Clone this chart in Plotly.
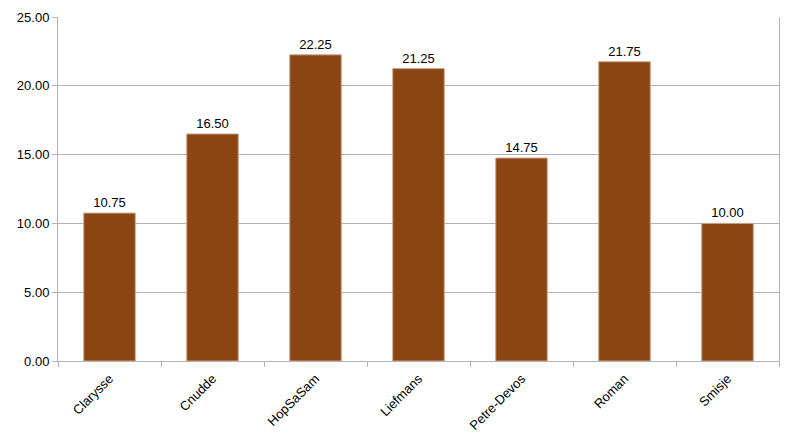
import plotly.graph_objects as go

brewers = ['Clarysse', 'Cnudde', 'HopSaSam', 'Liefmans', 'Petre-Devos', 'Roman', 'Smisje']
scores = [10.75, 16.50, 22.25, 21.25, 14.75, 21.75, 10.00]
y_ticks = [0, 5, 10, 15, 20, 25]

fig = go.Figure(go.Bar(x=brewers, y=scores,
                       marker=dict(color='#8b4513', line=dict(color='#c9a48a', width=1)),
                       width=0.5,
                       text=[f'{v:.2f}' for v in scores],
                       textposition='outside',
                       textfont=dict(size=13, color='black'),
                       cliponaxis=False))

# page body adds an 8px offset, so margins are shifted accordingly
fig.update_layout(width=794, height=441,
                  margin=dict(l=50, r=23, t=9, b=88),
                  plot_bgcolor='white', paper_bgcolor='white',
                  font=dict(family='Liberation Sans, Arial, sans-serif', size=13, color='black'),
                  showlegend=False)

fig.update_xaxes(tickangle=-45, tickson='boundaries', ticks='outside', ticklen=5,
                 tickcolor='#b3b3b3', showline=True, linecolor='#b3b3b3',
                 showgrid=False, tickfont=dict(size=13), ticklabelstandoff=4,
                 automargin=False)
fig.update_yaxes(range=[0, 25], tickvals=y_ticks, tickformat='.2f',
                 ticks='outside', ticklen=5, tickcolor='#b3b3b3',
                 showline=True, mirror=True, linecolor='#b3b3b3', gridcolor='#b3b3b3',
                 zeroline=False, tickfont=dict(size=13), automargin=False)

fig.write_html('out.html')
